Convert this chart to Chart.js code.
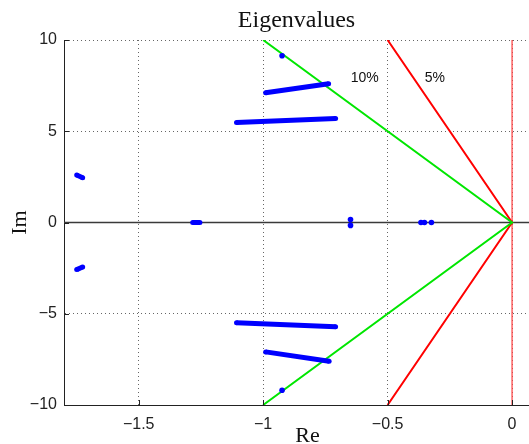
<!DOCTYPE html>
<html>
<head>
<meta charset="utf-8">
<script src="https://cdn.jsdelivr.net/npm/chart.js@4"></script>
<style>
  html, body { margin: 0; padding: 0; background: #fff; overflow: hidden; }
  canvas { display: block; }
</style>
</head>
<body>
<canvas id="eig" width="529" height="444"></canvas>
<script>
// axis ranges and tick labels
const xMin = -1.8, xMax = 0.068;
const yMin = -10, yMax = 10;
const xTicks = [-1.5, -1, -0.5, 0];
const yTicks = [-10, -5, 0, 5, 10];

// eigenvalue traces (Re / Im)
const traceA_re = [-1.107, -0.709];
const traceA_im = [5.48, 5.70];
const traceB_re = [-0.990, -0.737];
const traceB_im = [7.11, 7.60];
const traceC_re = [-1.107, -0.709];
const traceC_im = [-5.49, -5.71];
const traceD_re = [-0.990, -0.735];
const traceD_im = [-7.09, -7.60];
const farRe = [-1.749, -1.725];
const farImUp = [2.60, 2.45];
const farImDown = [-2.58, -2.44];
const realRe = [-1.283, -1.254];
const dotRe = [-0.924, -0.924, -0.649, -0.649, -0.366, -0.352, -0.324];
const dotIm = [9.14, -9.19, 0.16, -0.16, 0, 0, 0];

// damping ratio lines: Re where they hit Im = +-10
const dampLabels = ['10%', '5%'];
const dampRe = [-1.0, -0.5];
const dampLabelRe = [-0.592, -0.31];
const dampLabelIm = [7.93, 7.93];

const pts = (re, im) => re.map((x, i) => ({x: x, y: im[i]}));

const blue = '#0000ff';
function trace(re, im) {
  return {
    data: pts(re, im), showLine: true, borderColor: blue, backgroundColor: blue,
    borderWidth: 5, pointRadius: 2.5, pointBorderWidth: 0, order: 1
  };
}
function guide(data, color, width) {
  return {
    data: data, showLine: true, borderColor: color, borderWidth: width,
    pointRadius: 0, order: 2
  };
}

const datasets = [
  trace(traceA_re, traceA_im),
  trace(traceB_re, traceB_im),
  trace(traceC_re, traceC_im),
  trace(traceD_re, traceD_im),
  trace(farRe, farImUp),
  trace(farRe, farImDown),
  trace(realRe, [0, 0]),
  {data: pts(dotRe, dotIm), backgroundColor: blue, pointRadius: 2.8, pointBorderWidth: 0, order: 1},
  guide([{x: dampRe[0], y: yMax}, {x: 0, y: 0}, {x: dampRe[0], y: yMin}], '#00e600', 2),
  guide([{x: dampRe[1], y: yMax}, {x: 0, y: 0}, {x: dampRe[1], y: yMin}], '#ff0000', 2),
  guide([{x: xMin, y: 0}, {x: xMax, y: 0}], '#3a3a3a', 1.5),
  guide([{x: 0, y: yMin}, {x: 0, y: yMax}], 'rgba(255,70,70,0.85)', 1.5)
];

// % labels next to the damping lines
const dampText = {
  id: 'dampText',
  afterDatasetsDraw(chart) {
    const {ctx, scales: {x, y}} = chart;
    ctx.save();
    ctx.font = '14px "Liberation Sans", Arial, sans-serif';
    ctx.fillStyle = '#111';
    ctx.textAlign = 'center';
    ctx.textBaseline = 'middle';
    dampLabels.forEach((t, i) => {
      ctx.fillText(t, x.getPixelForValue(dampLabelRe[i]), y.getPixelForValue(dampLabelIm[i]));
    });
    ctx.restore();
  }
};

// small inward tick marks like matlab
const innerTicks = {
  id: 'innerTicks',
  afterDraw(chart) {
    const {ctx, chartArea: a, scales: {x, y}} = chart;
    ctx.save();
    ctx.strokeStyle = '#222';
    ctx.lineWidth = 1;
    ctx.beginPath();
    xTicks.forEach(v => {
      const px = Math.round(x.getPixelForValue(v)) + 0.5;
      ctx.moveTo(px, a.bottom); ctx.lineTo(px, a.bottom - 5);
    });
    yTicks.forEach(v => {
      const py = Math.round(y.getPixelForValue(v)) + 0.5;
      ctx.moveTo(a.left, py); ctx.lineTo(a.left + 5, py);
    });
    ctx.stroke();
    ctx.restore();
  }
};

const fmt = v => (v < 0 ? '\u2212' + Math.abs(v) : String(v));
const tickFont = {family: '"Liberation Sans", Arial, sans-serif', size: 16};

new Chart(document.getElementById('eig'), {
  type: 'scatter',
  data: {datasets: datasets},
  options: {
    responsive: false,
    animation: false,
    layout: {padding: 0, autoPadding: false},
    plugins: {
      legend: {display: false},
      tooltip: {enabled: false},
      title: {
        display: true, text: 'Eigenvalues', fullSize: false, color: '#111',
        font: {family: '"Liberation Serif", "Times New Roman", serif', size: 24, weight: 'normal', lineHeight: 1},
        padding: {top: 9, bottom: 7}
      }
    },
    scales: {
      x: {
        type: 'linear', min: xMin, max: xMax,
        afterBuildTicks: s => { s.ticks = xTicks.map(v => ({value: v})); },
        afterFit: s => { s.height = 39; s.paddingLeft = 0; s.paddingRight = 0; },
        ticks: {font: tickFont, color: '#222', padding: 10, maxRotation: 0, callback: fmt},
        grid: {color: '#666', lineWidth: 1, drawTicks: false},
        border: {display: true, color: '#222', width: 1, dash: [1, 3]},
        title: {
          display: true, text: '\u2003Re', color: '#111',
          font: {family: '"Liberation Serif", "Times New Roman", serif', size: 22, lineHeight: 0.7},
          padding: 0
        }
      },
      y: {
        type: 'linear', min: yMin, max: yMax,
        afterBuildTicks: s => { s.ticks = yTicks.map(v => ({value: v})); },
        afterFit: s => { s.width = 64; s.paddingTop = 0; s.paddingBottom = 0; },
        ticks: {font: tickFont, color: '#222', padding: 7, callback: fmt},
        grid: {color: '#666', lineWidth: 1, drawTicks: false},
        border: {display: true, color: '#222', width: 1, dash: [1, 3]},
        title: {
          display: true, text: 'Im', color: '#111',
          font: {family: '"Liberation Serif", "Times New Roman", serif', size: 22, lineHeight: 1},
          padding: {top: 9, bottom: 0}
        }
      }
    }
  },
  plugins: [dampText, innerTicks]
});
</script>
</body>
</html>
